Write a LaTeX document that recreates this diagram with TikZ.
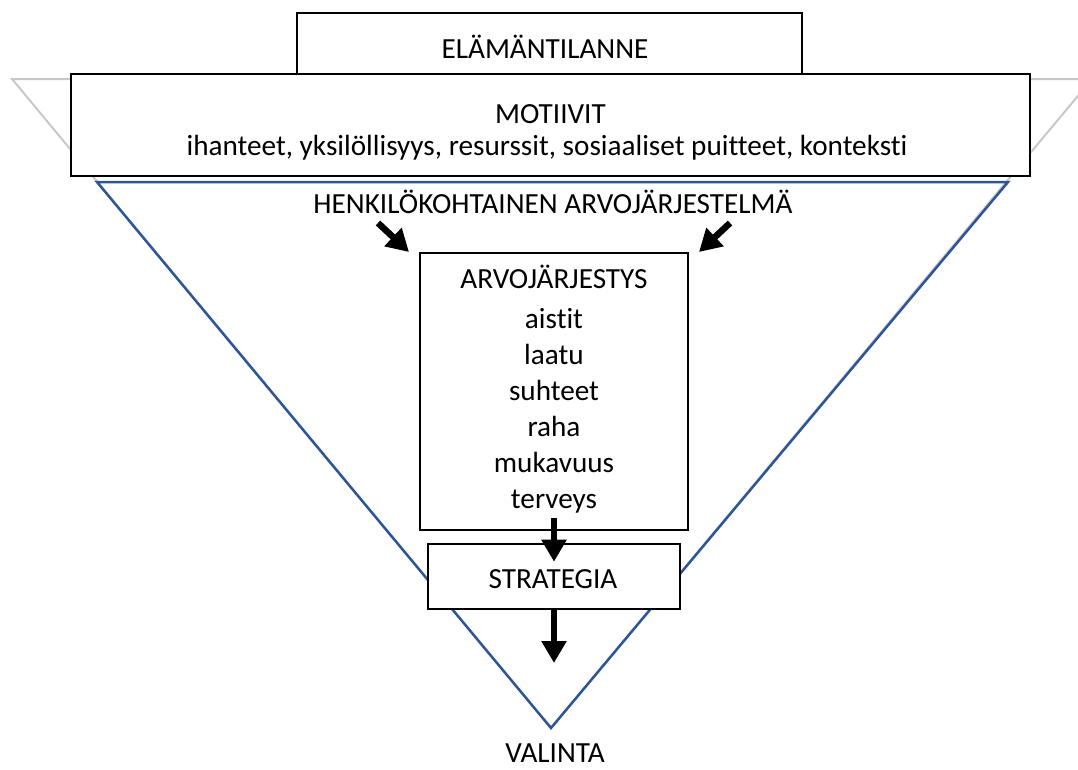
\documentclass[tikz,border=0pt]{standalone}
\usepackage{fontspec}
\setmainfont{Carlito}[Ligatures=NoCommon]
\usetikzlibrary{arrows.meta}
\definecolor{triblue}{RGB}{47,85,151}
\definecolor{trigray}{RGB}{200,200,200}
\begin{document}
\begin{tikzpicture}[x=1pt,y=-1pt,
  txt/.style={font=\fontsize{29.2}{36}\selectfont, inner sep=0pt, anchor=base},
  box/.style={draw=black, line width=2.6pt, fill=white, inner sep=0pt},
  bigarrow/.style={line width=6.5pt, -{Triangle[width=24pt,length=22pt]}}]
\useasboundingbox (0,0) rectangle (1078,769);
% outer (gray) triangle, partly hidden by the boxes
\begin{scope}
  \clip (0,0) rectangle (1078,769);
  \draw[trigray, line width=2pt] (12,79) -- (1092,79) -- (551,728) -- cycle;
\end{scope}
% inner (blue) triangle
\draw[triblue, line width=2.5pt] (97,182) -- (1008,182) -- (551,728) -- cycle;

% boxes
\node[box, minimum width=505, minimum height=62] (elama) at (549.5,44) {};
\node[box, minimum width=959, minimum height=102] (motiivit) at (550.5,125) {};
\node[box, minimum width=268, minimum height=277] (arv) at (554,391.5) {};
\node[box, minimum width=252, minimum height=65] (strat) at (554,576.5) {};

% texts
\node[txt] (telama) at (545,58) {ELÄMÄNTILANNE};
\node[txt] (tmot) at (550.5,123) {MOTIIVIT};
\node[txt] (tmotsub) at (547,155) {ihanteet, yksilöllisyys, resurssit, sosiaaliset puitteet, konteksti};
\node[txt] (thenk) at (553,213) {HENKILÖKOHTAINEN ARVOJÄRJESTELMÄ};
\node[txt] (tarv) at (554,288) {ARVOJÄRJESTYS};
\node[txt] (t1) at (554,328) {aistit};
\node[txt] (t2) at (554,364) {laatu};
\node[txt] (t3) at (554,400) {suhteet};
\node[txt] (t4) at (554,436) {raha};
\node[txt] (t5) at (554,472) {mukavuus};
\node[txt] (t6) at (554,508) {terveys};
\node[txt] (tstrat) at (553,588) {STRATEGIA};
\node[txt] (tval) at (555,762) {VALINTA};

% arrows
\coordinate (la) at (378,223);
\coordinate (lb) at (409,252);
\coordinate (ra) at (730,223);
\coordinate (rb) at (699,252);
\draw[bigarrow] (la) -- (lb);
\draw[bigarrow] (ra) -- (rb);
\draw[bigarrow] ([yshift=13pt]arv.south) -- ([yshift=-19pt]strat.north);
\coordinate (apexarrow) at (554,663);
\draw[bigarrow] (strat.south) -- (apexarrow);
\end{tikzpicture}
\end{document}
